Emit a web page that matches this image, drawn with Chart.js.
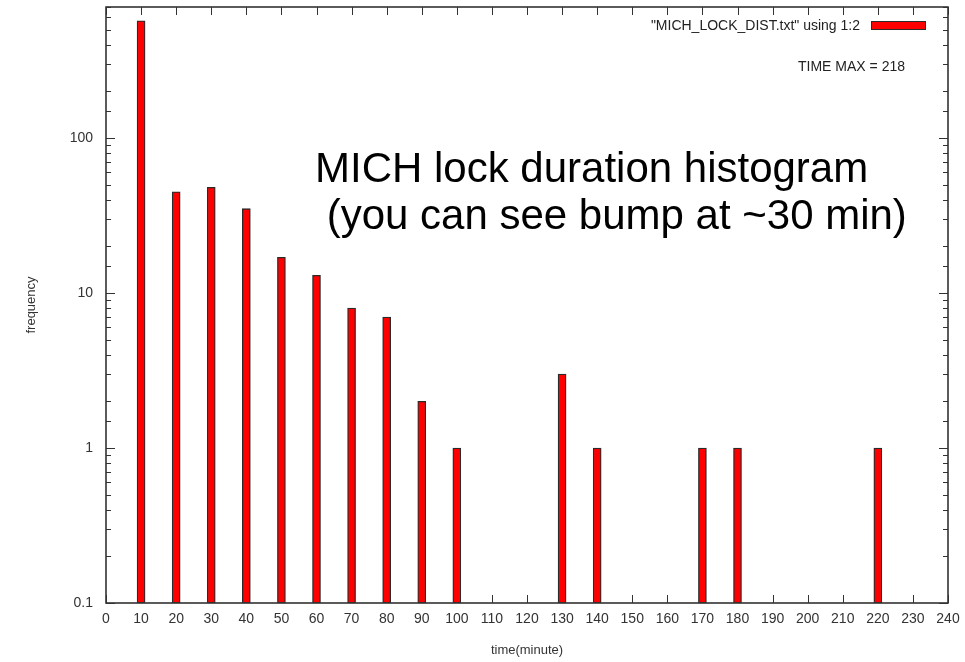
<!DOCTYPE html>
<html>
<head>
<meta charset="utf-8">
<script src="https://cdn.jsdelivr.net/npm/chart.js@4/dist/chart.umd.min.js"></script>
<style>
  html, body { margin: 0; padding: 0; background: #ffffff; }
  #wrap { width: 965px; height: 662px; position: relative; }
</style>
</head>
<body>
<div id="wrap"><canvas id="c" width="965" height="662"></canvas></div>
<script>
// ---- data ----
const times  = [10, 20, 30, 40, 50, 60, 70, 80, 90, 100, 130, 140, 170, 180, 220];
const counts = [570, 45, 48, 35, 17, 13, 8, 7, 2, 1, 3, 1, 1, 1, 1];
const seriesLabel = '"MICH_LOCK_DIST.txt" using 1:2';
const noteLabel = 'TIME MAX = 218';
const annotationLines = ['MICH lock duration histogram', ' (you can see bump at ~30 min)'];
const xTitle = 'time(minute)';
const yTitle = 'frequency';

const FONT = '"Liberation Sans", Arial, Helvetica, sans-serif';
const FRAME = '#333333';

const points = times.map((t, i) => ({ x: t, y: counts[i] }));

// gnuplot-like frame with inward ticks on all four sides
const framePlugin = {
  id: 'frame',
  beforeDatasetsDraw(chart) {
    const { ctx, chartArea: a, scales: { x, y } } = chart;
    ctx.save();
    ctx.strokeStyle = FRAME;
    ctx.lineWidth = 1;
    ctx.beginPath();
    x.ticks.forEach(t => {
      const px = Math.round(x.getPixelForValue(t.value)) + 0.5;
      ctx.moveTo(px, a.bottom); ctx.lineTo(px, a.bottom - 8);
      ctx.moveTo(px, a.top); ctx.lineTo(px, a.top + 8);
    });
    y.ticks.forEach(t => {
      const lg = Math.log10(t.value);
      const major = Math.abs(lg - Math.round(lg)) < 1e-9;
      const len = major ? 9 : 5;
      const py = Math.round(y.getPixelForValue(t.value)) + 0.5;
      ctx.moveTo(a.left, py); ctx.lineTo(a.left + len, py);
      ctx.moveTo(a.right, py); ctx.lineTo(a.right - len, py);
    });
    ctx.stroke();
    ctx.restore();
  },
  afterDatasetsDraw(chart) {
    const { ctx, chartArea: a } = chart;
    ctx.save();
    ctx.strokeStyle = FRAME;
    ctx.lineWidth = 1.6;
    ctx.strokeRect(a.left, a.top, a.right - a.left, a.bottom - a.top);

    // key (legend) at top right inside plot
    const ds = chart.data.datasets[0];
    ctx.font = '14px ' + FONT;
    ctx.fillStyle = '#222222';
    ctx.textAlign = 'right';
    ctx.textBaseline = 'middle';
    ctx.fillText(ds.label, a.right - 88, a.top + 19);
    ctx.fillStyle = ds.backgroundColor;
    ctx.fillRect(a.right - 77, a.top + 14, 55, 9);
    ctx.lineWidth = 1;
    ctx.strokeStyle = ds.borderColor;
    ctx.strokeRect(a.right - 77 + 0.5, a.top + 14 + 0.5, 54, 8);
    ctx.fillStyle = '#222222';
    ctx.fillText(noteLabel, a.right - 43, a.top + 60);

    // large annotation
    ctx.font = '42px ' + FONT;
    ctx.fillStyle = '#000000';
    ctx.textAlign = 'left';
    ctx.textBaseline = 'alphabetic';
    ctx.fillText(annotationLines[0], 315, 182);
    ctx.fillText(annotationLines[1], 315, 229);
    ctx.restore();
  }
};

new Chart(document.getElementById('c'), {
  type: 'bar',
  data: {
    datasets: [{
      label: seriesLabel,
      data: points,
      backgroundColor: '#ff0000',
      borderColor: '#2a2a2a',
      borderWidth: 1.3,
      borderSkipped: false,
      barThickness: 8
    }]
  },
  options: {
    responsive: false,
    animation: false,
    devicePixelRatio: 1,
    layout: { padding: { top: 7, right: 17, left: 0, bottom: 0 } },
    plugins: {
      legend: { display: false },
      tooltip: { enabled: false }
    },
    scales: {
      x: {
        type: 'linear',
        min: 0,
        max: 240,
        offset: false,
        grid: { display: false, drawTicks: false },
        border: { display: false },
        ticks: {
          stepSize: 10,
          autoSkip: false,
          maxRotation: 0,
          padding: 8,
          color: '#333333',
          font: { family: FONT, size: 14 }
        },
        title: {
          display: true,
          text: xTitle,
          color: '#333333',
          font: { family: FONT, size: 13 },
          padding: { top: 0, bottom: 4 }
        },
        afterFit(s) { s.height = 59; s.paddingLeft = 0; s.paddingRight = 0; }
      },
      y: {
        type: 'logarithmic',
        min: 0.1,
        max: 700,
        grid: { display: false, drawTicks: false },
        border: { display: false },
        ticks: {
          autoSkip: false,
          padding: 13,
          color: '#333333',
          font: { family: FONT, size: 14 },
          callback(v) {
            const lg = Math.log10(v);
            if (Math.abs(lg - Math.round(lg)) < 1e-9) {
              return v >= 1 ? String(Math.round(v)) : String(v);
            }
            return '';
          }
        },
        title: {
          display: true,
          text: yTitle,
          color: '#333333',
          font: { family: FONT, size: 13 },
          padding: { top: 24, bottom: 0 }
        },
        afterFit(s) { s.width = 106; s.paddingTop = 0; s.paddingBottom = 0; }
      }
    }
  },
  plugins: [framePlugin]
});
</script>
</body>
</html>
